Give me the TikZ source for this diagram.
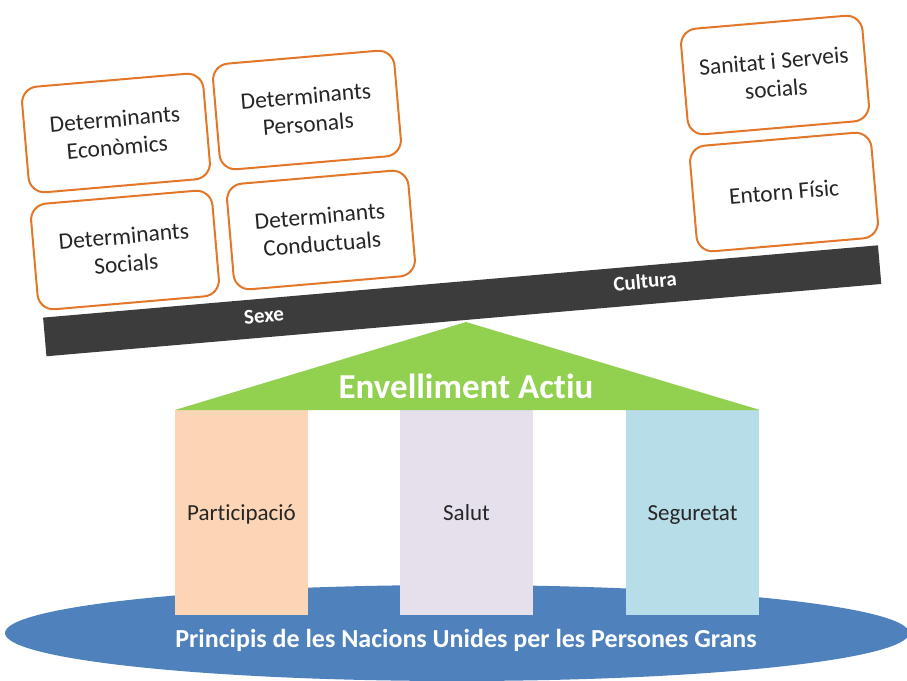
\documentclass[tikz,border=0pt]{standalone}
\usepackage{fontspec}
\setmainfont{Carlito}[Ligatures=NoCommon]
\usetikzlibrary{shapes.geometric}
\definecolor{boxorange}{HTML}{E2772A}
\definecolor{bargray}{HTML}{3C3C3C}
\definecolor{roofgreen}{HTML}{92D050}
\definecolor{peach}{HTML}{FBD5B5}
\definecolor{lavender}{HTML}{E5E0EC}
\definecolor{lightblue}{HTML}{B7DDE8}
\definecolor{baseblue}{HTML}{4F81BD}
\definecolor{txtdark}{HTML}{262626}
\begin{document}
\begin{tikzpicture}[x=1pt,y=-1pt,
  detbox/.style={draw=boxorange, line width=2pt, rounded corners=16pt, fill=white,
    minimum width=182pt, minimum height=106pt, rotate=4.9, align=center,
    font=\fontsize{23.5}{28}\selectfont, text=txtdark, inner sep=0pt},
  pillar/.style={minimum width=133pt, minimum height=205pt, inner sep=0pt},
  pillartext/.style={anchor=base, inner sep=0pt, font=\fontsize{23}{28}\selectfont, text=txtdark},
  barlabel/.style={rotate=4.95, text=white, font=\bfseries\fontsize{21}{24}\selectfont, inner sep=0pt}
]
\useasboundingbox (0,0) rectangle (907,680);
% base ellipse
\node[ellipse, fill=baseblue, minimum width=904pt, minimum height=96pt, inner sep=0pt] (base) at (457,633) {};
\node[text=white, font=\bfseries\fontsize{26}{28}\selectfont, inner sep=0pt] (principis) at (466,640)
  {Principis de les Nacions Unides per les Persones Grans};
% pillars
\node[pillar, fill=peach] (part) at (241.5,512.5) {};
\node[pillar, fill=lavender] (salut) at (466.5,512.5) {};
\node[pillar, fill=lightblue] (seg) at (692.5,512.5) {};
\node[pillartext] (parttxt) at ([yshift=-8pt]part.center) {Participació};
\node[pillartext] (saluttxt) at ([yshift=-8pt]salut.center) {Salut};
\node[pillartext] (segtxt) at ([yshift=-8pt]seg.center) {Seguretat};
% roof
\coordinate (roofL) at (175,410);
\coordinate (apex) at (466,322);
\coordinate (roofR) at (760,410);
\fill[roofgreen] (roofL) -- (apex) -- (roofR) -- cycle;
\node[text=white, font=\bfseries\fontsize{35}{40}\selectfont, inner sep=0pt] (envell) at (466,386) {Envelliment Actiu};
% bar
\node[fill=bargray, minimum width=838pt, minimum height=38.8pt, inner sep=0pt, rotate=4.95] (bar) at (462.2,300.8) {};
\node[barlabel] (sexe) at (264,316) {Sexe};
\node[barlabel] (cultura) at (645,281) {Cultura};
% determinant boxes
\node[detbox] (econ) at (116,133) {Determinants\\Econòmics};
\node[detbox] (pers) at (307,110) {Determinants\\Personals};
\node[detbox] (soc) at (125,250) {Determinants\\Socials};
\node[detbox] (cond) at (321,230) {Determinants\\Conductuals};
\node[detbox] (sanit) at (775,75) {Sanitat i Serveis\\socials};
\node[detbox] (entorn) at (784,192) {Entorn Físic};
\end{tikzpicture}
\end{document}
